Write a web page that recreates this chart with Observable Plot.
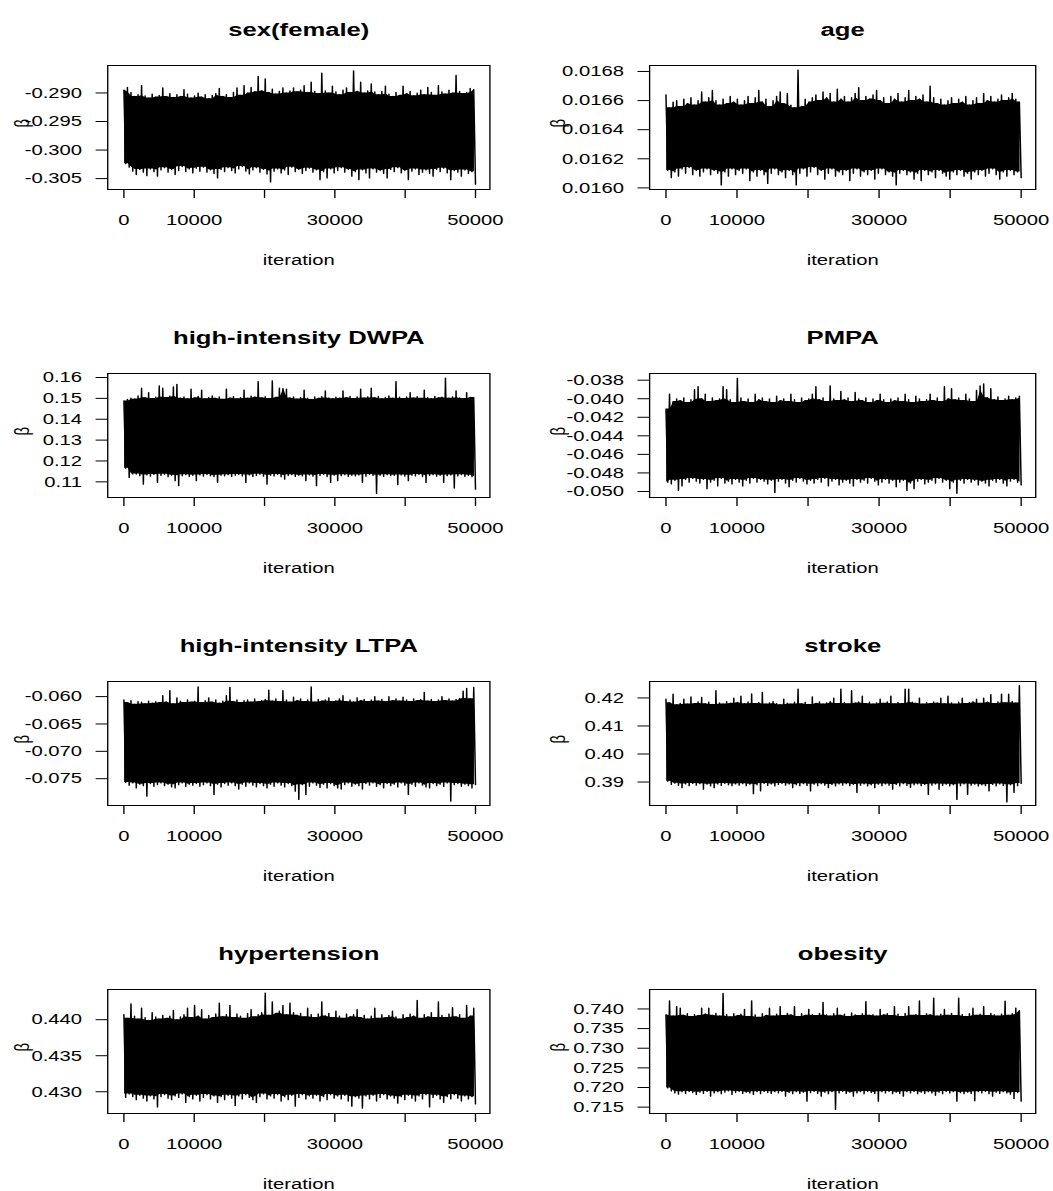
<!DOCTYPE html>
<html>
<head>
<meta charset="utf-8">
<script src="https://cdn.jsdelivr.net/npm/d3@7"></script>
<script src="https://cdn.jsdelivr.net/npm/@observablehq/plot@0.6"></script>
<style>
  html, body { margin: 0; padding: 0; background: #fff; overflow: hidden; }
  #wrap { position: relative; width: 780px; height: 1191px; transform: scaleX(1.35); transform-origin: 0 0; overflow: hidden; }
  #wrap > svg { position: absolute; }
</style>
</head>
<body>
<div id="wrap"></div>
<script>
// ---- data: thinned trace extremes (upper / lower needle tips), 100 bins of 500 iterations ----
const titles = ["sex(female)", "age", "high-intensity DWPA", "PMPA", "high-intensity LTPA", "stroke", "hypertension", "obesity"];

const sexHi = [-0.2895,-0.2890,-0.2899,-0.2906,-0.2903,-0.2887,-0.2905,-0.2909,-0.2902,-0.2907,
-0.2904,-0.2891,-0.2906,-0.2901,-0.2908,-0.2903,-0.2906,-0.2894,-0.2902,-0.2909,
-0.2905,-0.2900,-0.2907,-0.2903,-0.2910,-0.2904,-0.2901,-0.2892,-0.2906,-0.2903,
-0.2908,-0.2899,-0.2891,-0.2904,-0.2887,-0.2900,-0.2890,-0.2898,-0.2871,-0.2896,
-0.2875,-0.2899,-0.2893,-0.2902,-0.2897,-0.2891,-0.2900,-0.2896,-0.2891,-0.2898,
-0.2895,-0.2887,-0.2899,-0.2881,-0.2897,-0.2901,-0.2865,-0.2896,-0.2900,-0.2888,
-0.2898,-0.2903,-0.2895,-0.2891,-0.2899,-0.2861,-0.2897,-0.2881,-0.2900,-0.2896,
-0.2884,-0.2898,-0.2903,-0.2897,-0.2888,-0.2902,-0.2906,-0.2899,-0.2904,-0.2888,
-0.2901,-0.2897,-0.2905,-0.2900,-0.2895,-0.2903,-0.2890,-0.2899,-0.2904,-0.2887,
-0.2898,-0.2902,-0.2895,-0.2900,-0.2869,-0.2897,-0.2901,-0.2899,-0.2892,-0.2894];
const sexLo = [-0.3024,-0.3030,-0.3037,-0.3043,-0.3034,-0.3039,-0.3045,-0.3033,-0.3038,-0.3046,
-0.3035,-0.3031,-0.3039,-0.3034,-0.3043,-0.3036,-0.3029,-0.3038,-0.3033,-0.3040,
-0.3032,-0.3037,-0.3030,-0.3039,-0.3035,-0.3041,-0.3049,-0.3034,-0.3038,-0.3031,
-0.3036,-0.3040,-0.3033,-0.3029,-0.3037,-0.3042,-0.3035,-0.3031,-0.3039,-0.3034,
-0.3042,-0.3056,-0.3037,-0.3033,-0.3040,-0.3035,-0.3043,-0.3030,-0.3038,-0.3034,
-0.3041,-0.3036,-0.3032,-0.3039,-0.3035,-0.3052,-0.3038,-0.3049,-0.3033,-0.3040,
-0.3036,-0.3031,-0.3039,-0.3034,-0.3046,-0.3038,-0.3052,-0.3035,-0.3040,-0.3049,
-0.3033,-0.3039,-0.3036,-0.3041,-0.3049,-0.3034,-0.3038,-0.3031,-0.3040,-0.3036,
-0.3052,-0.3037,-0.3033,-0.3043,-0.3039,-0.3035,-0.3041,-0.3046,-0.3034,-0.3038,
-0.3032,-0.3040,-0.3052,-0.3036,-0.3039,-0.3046,-0.3035,-0.3041,-0.3038,-0.3060];

const ageHi = [0.01664,0.01655,0.01659,0.01660,0.01656,0.01661,0.01658,0.01662,0.01657,0.01660,
0.01666,0.01659,0.01662,0.01667,0.01660,0.01657,0.01661,0.01658,0.01663,0.01659,
0.01661,0.01657,0.01660,0.01663,0.01658,0.01662,0.01667,0.01659,0.01661,0.01656,
0.01660,0.01663,0.01666,0.01658,0.01665,0.01657,0.01655,0.01681,0.01656,0.01661,
0.01659,0.01662,0.01664,0.01660,0.01666,0.01662,0.01665,0.01659,0.01668,0.01661,
0.01663,0.01659,0.01662,0.01665,0.01669,0.01660,0.01663,0.01661,0.01664,0.01667,
0.01660,0.01662,0.01658,0.01663,0.01661,0.01665,0.01659,0.01662,0.01667,0.01660,
0.01663,0.01661,0.01664,0.01659,0.01670,0.01662,0.01658,0.01661,0.01657,0.01660,
0.01662,0.01658,0.01661,0.01659,0.01663,0.01657,0.01660,0.01662,0.01658,0.01665,
0.01660,0.01663,0.01659,0.01661,0.01664,0.01660,0.01662,0.01665,0.01661,0.01659];
const ageLo = [0.01612,0.01607,0.01611,0.01608,0.01613,0.01610,0.01614,0.01609,0.01612,0.01608,
0.01611,0.01613,0.01609,0.01612,0.01610,0.01602,0.01611,0.01608,0.01613,0.01609,
0.01612,0.01610,0.01613,0.01605,0.01611,0.01608,0.01612,0.01609,0.01603,0.01610,
0.01613,0.01609,0.01611,0.01607,0.01612,0.01609,0.01602,0.01610,0.01613,0.01608,
0.01611,0.01614,0.01609,0.01612,0.01606,0.01610,0.01613,0.01608,0.01611,0.01609,
0.01612,0.01605,0.01610,0.01613,0.01608,0.01611,0.01609,0.01612,0.01606,0.01610,
0.01613,0.01609,0.01611,0.01608,0.01602,0.01610,0.01612,0.01609,0.01611,0.01606,
0.01610,0.01605,0.01612,0.01609,0.01611,0.01607,0.01612,0.01610,0.01608,0.01606,
0.01611,0.01609,0.01612,0.01608,0.01610,0.01606,0.01611,0.01609,0.01612,0.01608,
0.01610,0.01613,0.01609,0.01606,0.01611,0.01608,0.01612,0.01609,0.01611,0.01607];

const dwpaHi = [0.1488,0.1495,0.1502,0.1497,0.1512,0.1549,0.1503,0.1528,0.1499,0.1506,
0.1560,0.1549,0.1504,0.1511,0.1555,0.1568,0.1501,0.1507,0.1498,0.1545,
0.1503,0.1510,0.1540,0.1498,0.1505,0.1512,0.1500,0.1507,0.1496,0.1545,
0.1502,0.1509,0.1498,0.1504,0.1540,0.1501,0.1511,0.1506,0.1581,0.1503,
0.1509,0.1499,0.1584,0.1505,0.1549,0.1547,0.1545,0.1502,0.1508,0.1497,
0.1504,0.1540,0.1501,0.1495,0.1507,0.1500,0.1509,0.1536,0.1503,0.1498,
0.1506,0.1501,0.1536,0.1504,0.1510,0.1499,0.1507,0.1545,0.1502,0.1508,
0.1549,0.1503,0.1510,0.1498,0.1505,0.1512,0.1501,0.1581,0.1506,0.1499,
0.1507,0.1528,0.1502,0.1509,0.1500,0.1540,0.1504,0.1498,0.1510,0.1503,
0.1506,0.1597,0.1501,0.1508,0.1536,0.1503,0.1499,0.1528,0.1505,0.1504];
const dwpaLo = [0.1165,0.1121,0.1138,0.1137,0.1129,0.1089,0.1133,0.1127,0.1135,0.1097,
0.1130,0.1136,0.1124,0.1132,0.1105,0.1081,0.1129,0.1134,0.1126,0.1131,
0.1105,0.1133,0.1127,0.1135,0.1129,0.1124,0.1097,0.1132,0.1128,0.1134,
0.1126,0.1131,0.1135,0.1128,0.1097,0.1133,0.1125,0.1130,0.1136,0.1127,
0.1089,0.1132,0.1128,0.1135,0.1124,0.1113,0.1130,0.1134,0.1126,0.1131,
0.1128,0.1105,0.1133,0.1127,0.1081,0.1130,0.1135,0.1125,0.1097,0.1132,
0.1105,0.1129,0.1134,0.1126,0.1131,0.1128,0.1133,0.1097,0.1127,0.1135,
0.1130,0.1044,0.1132,0.1126,0.1134,0.1129,0.1131,0.1086,0.1133,0.1127,
0.1105,0.1132,0.1128,0.1135,0.1125,0.1097,0.1130,0.1134,0.1127,0.1131,
0.1097,0.1129,0.1133,0.1070,0.1128,0.1134,0.1126,0.1131,0.1124,0.1065];

const pmpaHi = [-0.0411,-0.0395,-0.0403,-0.0400,-0.0402,-0.0399,-0.0404,-0.0401,-0.0390,-0.0387,
-0.0400,-0.0395,-0.0403,-0.0399,-0.0402,-0.0400,-0.0387,-0.0390,-0.0401,-0.0404,
-0.0378,-0.0399,-0.0403,-0.0400,-0.0404,-0.0395,-0.0401,-0.0399,-0.0403,-0.0400,
-0.0404,-0.0397,-0.0402,-0.0400,-0.0403,-0.0395,-0.0401,-0.0404,-0.0399,-0.0402,
-0.0400,-0.0395,-0.0387,-0.0401,-0.0399,-0.0403,-0.0386,-0.0400,-0.0402,-0.0392,
-0.0401,-0.0399,-0.0403,-0.0393,-0.0400,-0.0402,-0.0399,-0.0404,-0.0400,-0.0402,
-0.0395,-0.0401,-0.0404,-0.0400,-0.0402,-0.0399,-0.0403,-0.0395,-0.0401,-0.0404,
-0.0397,-0.0400,-0.0403,-0.0401,-0.0395,-0.0402,-0.0399,-0.0403,-0.0387,-0.0400,
-0.0389,-0.0401,-0.0399,-0.0402,-0.0395,-0.0400,-0.0403,-0.0391,-0.0386,-0.0384,
-0.0399,-0.0389,-0.0401,-0.0398,-0.0402,-0.0400,-0.0397,-0.0401,-0.0399,-0.0397];
const pmpaLo = [-0.0490,-0.0492,-0.0488,-0.0499,-0.0494,-0.0487,-0.0490,-0.0486,-0.0489,-0.0491,
-0.0487,-0.0497,-0.0490,-0.0488,-0.0494,-0.0486,-0.0491,-0.0489,-0.0492,-0.0487,
-0.0490,-0.0494,-0.0488,-0.0491,-0.0486,-0.0490,-0.0487,-0.0489,-0.0492,-0.0488,
-0.0501,-0.0489,-0.0487,-0.0491,-0.0495,-0.0488,-0.0490,-0.0486,-0.0489,-0.0492,
-0.0488,-0.0491,-0.0487,-0.0490,-0.0486,-0.0494,-0.0489,-0.0487,-0.0493,-0.0490,
-0.0488,-0.0491,-0.0494,-0.0487,-0.0490,-0.0488,-0.0491,-0.0486,-0.0489,-0.0493,
-0.0490,-0.0487,-0.0491,-0.0488,-0.0495,-0.0490,-0.0488,-0.0499,-0.0491,-0.0497,
-0.0489,-0.0487,-0.0492,-0.0490,-0.0488,-0.0491,-0.0486,-0.0490,-0.0488,-0.0497,
-0.0490,-0.0502,-0.0488,-0.0491,-0.0487,-0.0490,-0.0488,-0.0493,-0.0489,-0.0491,
-0.0494,-0.0488,-0.0490,-0.0487,-0.0491,-0.0494,-0.0489,-0.0487,-0.0490,-0.0493];

const ltpaHi = [-0.0606,-0.0611,-0.0607,-0.0614,-0.0609,-0.0610,-0.0613,-0.0608,-0.0612,-0.0609,
-0.0611,-0.0598,-0.0610,-0.0589,-0.0613,-0.0602,-0.0608,-0.0611,-0.0606,-0.0610,
-0.0608,-0.0582,-0.0611,-0.0607,-0.0602,-0.0610,-0.0606,-0.0612,-0.0608,-0.0598,
-0.0583,-0.0609,-0.0606,-0.0611,-0.0607,-0.0606,-0.0610,-0.0604,-0.0609,-0.0607,
-0.0605,-0.0588,-0.0608,-0.0604,-0.0609,-0.0589,-0.0606,-0.0610,-0.0601,-0.0607,
-0.0604,-0.0609,-0.0606,-0.0582,-0.0610,-0.0605,-0.0608,-0.0606,-0.0602,-0.0609,
-0.0607,-0.0604,-0.0598,-0.0609,-0.0606,-0.0610,-0.0602,-0.0607,-0.0605,-0.0609,
-0.0606,-0.0600,-0.0608,-0.0605,-0.0609,-0.0600,-0.0607,-0.0604,-0.0608,-0.0601,
-0.0606,-0.0609,-0.0604,-0.0607,-0.0605,-0.0592,-0.0608,-0.0605,-0.0609,-0.0606,
-0.0600,-0.0607,-0.0604,-0.0608,-0.0605,-0.0603,-0.0590,-0.0585,-0.0604,-0.0583];
const ltpaLo = [-0.0757,-0.0762,-0.0758,-0.0767,-0.0760,-0.0763,-0.0782,-0.0759,-0.0764,-0.0761,
-0.0758,-0.0763,-0.0760,-0.0765,-0.0767,-0.0761,-0.0758,-0.0764,-0.0760,-0.0762,
-0.0759,-0.0764,-0.0761,-0.0758,-0.0763,-0.0779,-0.0760,-0.0765,-0.0759,-0.0762,
-0.0758,-0.0763,-0.0769,-0.0760,-0.0764,-0.0758,-0.0762,-0.0765,-0.0759,-0.0763,
-0.0767,-0.0760,-0.0764,-0.0758,-0.0762,-0.0765,-0.0759,-0.0763,-0.0773,-0.0788,
-0.0761,-0.0779,-0.0764,-0.0758,-0.0762,-0.0766,-0.0760,-0.0767,-0.0759,-0.0763,
-0.0767,-0.0769,-0.0761,-0.0758,-0.0764,-0.0760,-0.0763,-0.0769,-0.0759,-0.0762,
-0.0758,-0.0764,-0.0761,-0.0767,-0.0759,-0.0763,-0.0760,-0.0765,-0.0758,-0.0762,
-0.0779,-0.0760,-0.0764,-0.0758,-0.0762,-0.0765,-0.0767,-0.0759,-0.0763,-0.0760,
-0.0764,-0.0758,-0.0791,-0.0761,-0.0759,-0.0764,-0.0760,-0.0763,-0.0767,-0.0761];

const strokeHi = [0.4196,0.4183,0.4214,0.4176,0.4181,0.4196,0.4178,0.4204,0.4180,0.4186,
0.4202,0.4179,0.4185,0.4177,0.4226,0.4183,0.4178,0.4187,0.4181,0.4200,
0.4184,0.4207,0.4179,0.4186,0.4215,0.4180,0.4184,0.4220,0.4178,0.4183,
0.4187,0.4180,0.4176,0.4196,0.4182,0.4178,0.4185,0.4232,0.4179,0.4184,
0.4177,0.4204,0.4181,0.4186,0.4178,0.4183,0.4187,0.4200,0.4180,0.4232,
0.4184,0.4179,0.4226,0.4182,0.4186,0.4207,0.4180,0.4185,0.4178,0.4183,
0.4196,0.4181,0.4186,0.4207,0.4179,0.4184,0.4180,0.4232,0.4232,0.4185,
0.4181,0.4200,0.4178,0.4184,0.4180,0.4186,0.4182,0.4200,0.4179,0.4207,
0.4183,0.4178,0.4185,0.4200,0.4180,0.4184,0.4187,0.4196,0.4181,0.4200,
0.4185,0.4212,0.4180,0.4186,0.4214,0.4183,0.4214,0.4188,0.4182,0.4244];
const strokeLo = [0.3903,0.3891,0.3896,0.3888,0.3880,0.3893,0.3887,0.3895,0.3889,0.3894,
0.3874,0.3892,0.3886,0.3880,0.3893,0.3888,0.3895,0.3890,0.3887,0.3893,
0.3889,0.3894,0.3887,0.3892,0.3858,0.3890,0.3868,0.3895,0.3888,0.3893,
0.3886,0.3891,0.3895,0.3889,0.3893,0.3880,0.3890,0.3887,0.3894,0.3888,
0.3868,0.3892,0.3887,0.3894,0.3889,0.3880,0.3891,0.3886,0.3893,0.3889,
0.3894,0.3887,0.3891,0.3863,0.3889,0.3893,0.3886,0.3890,0.3880,0.3892,
0.3887,0.3893,0.3889,0.3874,0.3891,0.3886,0.3894,0.3888,0.3881,0.3890,
0.3893,0.3887,0.3891,0.3856,0.3889,0.3893,0.3874,0.3888,0.3892,0.3886,
0.3890,0.3838,0.3887,0.3893,0.3856,0.3889,0.3892,0.3886,0.3890,0.3887,
0.3868,0.3891,0.3886,0.3893,0.3888,0.3829,0.3890,0.3863,0.3887,0.3895];

const hyperHi = [0.4407,0.4402,0.4422,0.4405,0.4401,0.4416,0.4403,0.4399,0.4410,0.4404,
0.4401,0.4406,0.4402,0.4405,0.4413,0.4400,0.4404,0.4407,0.4416,0.4403,
0.4420,0.4405,0.4414,0.4401,0.4406,0.4403,0.4408,0.4423,0.4404,0.4407,
0.4420,0.4403,0.4408,0.4405,0.4402,0.4409,0.4414,0.4404,0.4407,0.4410,
0.4437,0.4406,0.4425,0.4409,0.4412,0.4420,0.4407,0.4423,0.4410,0.4406,
0.4409,0.4404,0.4416,0.4407,0.4403,0.4408,0.4425,0.4405,0.4409,0.4403,
0.4412,0.4405,0.4402,0.4408,0.4404,0.4407,0.4414,0.4403,0.4406,0.4401,
0.4405,0.4416,0.4402,0.4407,0.4403,0.4406,0.4412,0.4404,0.4401,0.4407,
0.4403,0.4408,0.4405,0.4427,0.4402,0.4407,0.4404,0.4410,0.4403,0.4425,
0.4406,0.4403,0.4408,0.4417,0.4404,0.4407,0.4402,0.4420,0.4405,0.4416];
const hyperLo = [0.4292,0.4297,0.4293,0.4289,0.4295,0.4291,0.4287,0.4294,0.4290,0.4279,
0.4293,0.4296,0.4291,0.4289,0.4294,0.4292,0.4297,0.4285,0.4293,0.4290,
0.4295,0.4287,0.4292,0.4296,0.4290,0.4294,0.4285,0.4293,0.4289,0.4295,
0.4291,0.4281,0.4294,0.4290,0.4296,0.4292,0.4289,0.4285,0.4293,0.4297,
0.4290,0.4294,0.4291,0.4296,0.4287,0.4293,0.4289,0.4295,0.4280,0.4292,
0.4296,0.4290,0.4294,0.4291,0.4295,0.4287,0.4293,0.4289,0.4296,0.4291,
0.4294,0.4290,0.4295,0.4287,0.4280,0.4293,0.4291,0.4277,0.4294,0.4290,
0.4295,0.4287,0.4292,0.4296,0.4290,0.4294,0.4291,0.4284,0.4293,0.4289,
0.4295,0.4291,0.4287,0.4294,0.4290,0.4296,0.4279,0.4292,0.4295,0.4290,
0.4285,0.4293,0.4290,0.4296,0.4291,0.4287,0.4294,0.4290,0.4293,0.4283];

const obesHi = [0.7385,0.7421,0.7382,0.7406,0.7402,0.7384,0.7388,0.7381,0.7386,0.7383,
0.7402,0.7387,0.7402,0.7384,0.7389,0.7382,0.7440,0.7386,0.7380,0.7388,
0.7383,0.7387,0.7399,0.7381,0.7421,0.7385,0.7379,0.7388,0.7384,0.7402,
0.7382,0.7387,0.7406,0.7383,0.7389,0.7385,0.7406,0.7381,0.7388,0.7384,
0.7399,0.7386,0.7383,0.7389,0.7417,0.7385,0.7382,0.7388,0.7402,0.7384,
0.7387,0.7381,0.7390,0.7385,0.7383,0.7388,0.7419,0.7384,0.7386,0.7382,
0.7399,0.7385,0.7388,0.7383,0.7406,0.7387,0.7381,0.7389,0.7406,0.7384,
0.7386,0.7421,0.7383,0.7388,0.7385,0.7428,0.7382,0.7387,0.7399,0.7384,
0.7389,0.7383,0.7428,0.7386,0.7381,0.7388,0.7402,0.7384,0.7387,0.7406,
0.7383,0.7389,0.7385,0.7382,0.7387,0.7420,0.7384,0.7388,0.7402,0.7396];
const obesLo = [0.7199,0.7191,0.7186,0.7183,0.7189,0.7185,0.7190,0.7187,0.7182,0.7188,
0.7185,0.7190,0.7178,0.7186,0.7189,0.7184,0.7188,0.7191,0.7182,0.7187,
0.7190,0.7185,0.7188,0.7186,0.7182,0.7189,0.7184,0.7190,0.7187,0.7185,
0.7189,0.7186,0.7190,0.7178,0.7187,0.7184,0.7189,0.7185,0.7188,0.7165,
0.7187,0.7190,0.7185,0.7178,0.7188,0.7184,0.7189,0.7144,0.7186,0.7190,
0.7185,0.7188,0.7178,0.7186,0.7189,0.7184,0.7190,0.7187,0.7185,0.7165,
0.7189,0.7186,0.7190,0.7184,0.7188,0.7185,0.7178,0.7189,0.7186,0.7190,
0.7184,0.7188,0.7185,0.7189,0.7186,0.7180,0.7188,0.7184,0.7190,0.7186,
0.7189,0.7165,0.7187,0.7184,0.7188,0.7185,0.7166,0.7189,0.7186,0.7190,
0.7184,0.7178,0.7188,0.7185,0.7189,0.7186,0.7183,0.7172,0.7187,0.7165];

// tick values / labels
const xTicks = [0, 10000, 20000, 30000, 40000, 50000];
const xLabels = [0, 10000, 30000, 50000];
const sexTicks = [-0.305, -0.300, -0.295, -0.290];
const ageTicks = [0.0160, 0.0162, 0.0164, 0.0166, 0.0168];
const dwpaTicks = [0.11, 0.12, 0.13, 0.14, 0.15, 0.16];
const pmpaTicks = [-0.050, -0.048, -0.046, -0.044, -0.042, -0.040, -0.038];
const ltpaTicks = [-0.075, -0.070, -0.065, -0.060];
const strokeTicks = [0.39, 0.40, 0.41, 0.42];
const hyperTicks = [0.430, 0.435, 0.440];
const obesTicks = [0.715, 0.720, 0.725, 0.730, 0.735, 0.740];
const tickDigits = [3, 4, 2, 3, 3, 2, 3, 3];

const panels = [
  {hi: sexHi, lo: sexLo, ticks: sexTicks, domain: [-0.30691, -0.28519]},
  {hi: ageHi, lo: ageLo, ticks: ageTicks, domain: [0.015989, 0.016841]},
  {hi: dwpaHi, lo: dwpaLo, ticks: dwpaTicks, domain: [0.10249, 0.16192]},
  {hi: pmpaHi, lo: pmpaLo, ticks: pmpaTicks, domain: [-0.05065, -0.03728]},
  {hi: ltpaHi, lo: ltpaLo, ticks: ltpaTicks, domain: [-0.0799, -0.05724]},
  {hi: strokeHi, lo: strokeLo, ticks: strokeTicks, domain: [0.38163, 0.42586]},
  {hi: hyperHi, lo: hyperLo, ticks: hyperTicks, domain: [0.42698, 0.44419]},
  {hi: obesHi, lo: obesLo, ticks: obesTicks, domain: [0.71338, 0.74495]}
];

const wrap = document.getElementById("wrap");
const FONT = "'Liberation Sans', Arial, Helvetica, sans-serif";

panels.forEach((p, i) => {
  const col = i % 2, row = Math.floor(i / 2);
  const n = p.hi.length;
  const trace = [];
  const bins = [];
  const mid = (p.domain[0] + p.domain[1]) / 2;
  for (let k = 0; k < n; k++) {
    trace.push({it: (2 * k) * 50000 / (2 * n - 1), v: p.hi[k]});
    trace.push({it: (2 * k + 1) * 50000 / (2 * n - 1), v: p.lo[k]});
    bins.push({it: (2 * k + 0.5) * 50000 / (2 * n - 1), hi: p.hi[k], lo: p.lo[k], mid});
  }
  const mL = col === 0 ? 79.3 : 90.7;
  const mR = col === 0 ? 27.6 : 13.3;
  const betaDx = col === 0 ? -63 : -67.7;
  const digits = tickDigits[i];
  const svg = Plot.plot({
    width: 390,
    height: 308,
    marginLeft: mL,
    marginRight: mR,
    marginTop: 65,
    marginBottom: 119,
    style: {fontFamily: FONT, fontSize: "15px", color: "black", background: "transparent", overflow: "visible"},
    x: {domain: [-2300, 52050], label: null},
    y: {domain: p.domain, label: null},
    marks: [
      // dense core of the trace (upper half and lower half)
      Plot.areaY(bins, Plot.windowY({k: 3, reduce: "min"}, {x: "it", y1: "mid", y2: "hi", fill: "black"})),
      Plot.areaY(bins, Plot.windowY({k: 3, reduce: "max"}, {x: "it", y1: "lo", y2: "mid", fill: "black"})),
      // the trace needles
      Plot.line(trace, {x: "it", y: "v", stroke: "black", strokeWidth: 1.1}),
      Plot.frame({stroke: "black", strokeWidth: 1}),
      Plot.axisX({ticks: xTicks, tickSize: 9, tickPadding: 16, label: null,
        tickFormat: d => xLabels.includes(d) ? String(d) : "", fontSize: 15, stroke: "black"}),
      Plot.axisY({ticks: p.ticks, tickSize: 8.5, tickPadding: 10.5, label: null,
        tickFormat: d => d.toFixed(digits), fontSize: 15, stroke: "black"}),
      Plot.text([titles[i]], {text: d => d, frameAnchor: "top", dy: -43, fontWeight: "bold", fontSize: 19, fill: "black"}),
      Plot.text(["iteration"], {text: d => d, frameAnchor: "bottom", dy: 75, fontSize: 15, fill: "black"}),
      Plot.text(["β"], {text: d => d, frameAnchor: "left", dx: betaDx, rotate: -90, fontSize: 15, fill: "black"})
    ]
  });
  svg.style.left = (col * 390) + "px";
  svg.style.top = (row * 308) + "px";
  wrap.appendChild(svg);
});
</script>
</body>
</html>
